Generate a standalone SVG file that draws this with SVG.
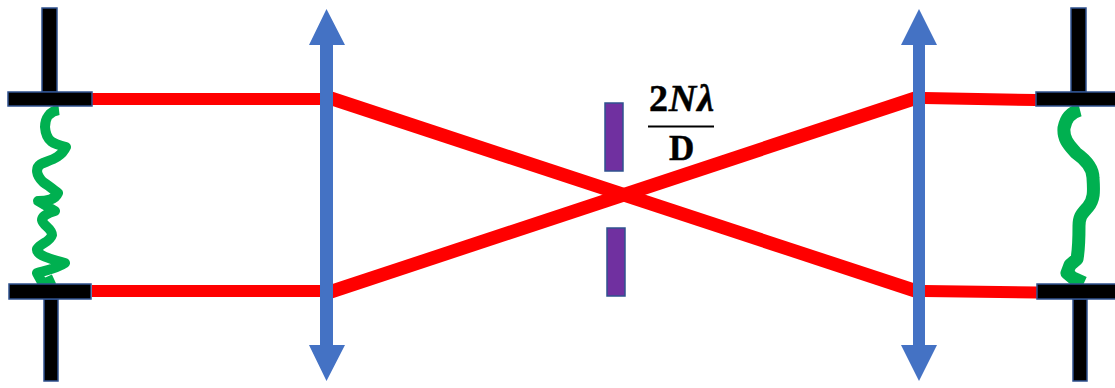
<svg xmlns="http://www.w3.org/2000/svg" width="1115" height="388" viewBox="0 0 1115 388">
<style>
.plate{fill:#000;stroke:#2f528f;stroke-width:1.5}
.ray{fill:none;stroke:#f00;stroke-width:12}
.slant{stroke-width:13.500}
.stop{fill:#7030a0;stroke:#2f528f;stroke-width:1.5}
.lens{fill:#4472c4}
.wave{fill:none;stroke:#00b050;stroke-linejoin:round}
.eq{font-family:"Liberation Serif","DejaVu Serif",serif;font-weight:bold;font-size:38px;fill:#000;stroke:#000;stroke-width:0.500}
</style>
<rect width="1115" height="388" fill="#fff"/>
<g id="connectors">
<path class="ray" d="M92 99H322"/>
<path class="ray" d="M92 291H322"/>
<path class="ray slant" d="M330 98L916 291"/>
<path class="ray slant" d="M330 292L916 98"/>
<path class="ray" d="M924 98L1036 100"/>
<path class="ray" d="M924 291L1037 292.500"/>
</g>
<g id="left-wave"><path class="wave" stroke-width="10" d="M59 110C50 111 45 118 45 127C46 142 54 144 66 147C61 158 50 160 41 164C35 168 36 175 43 182C49 186 54 190 58 193C55 200 47 201 38 201L55 211C48 213 42 216 42 220C43 226 52 228 52 235C50 242 41 243 37 249C36 255 50 259 65 263C58 268 48 270 37 273L43 284L54 279"/></g>
<g id="right-wave"><path class="wave" stroke-width="13" d="M1080 110C1072 112 1066 117 1064 128C1063 140 1070 146 1076 153C1086 160 1093 168 1093 178C1094 192 1094 200 1088 207C1082 214 1079 216 1079 226C1079 240 1079 248 1077 259L1070 265L1067 273L1073 278L1084 283"/></g>
<g id="left-lens"><path class="lens" d="M326.500 9L345 45H333V345H345L326.500 381L309 345H320V45H309Z"/></g>
<g id="right-lens"><path class="lens" d="M919 9L937 45H925V345H937L919 381L901 345H913V45H901Z"/></g>
<g id="left-plate-top"><rect class="plate" x="42" y="8" width="15" height="84"/><rect class="plate" x="8" y="92" width="84" height="14"/></g>
<g id="left-plate-bottom"><rect class="plate" x="44" y="299" width="14" height="82"/><rect class="plate" x="9" y="284" width="82" height="15"/></g>
<g id="right-plate-top"><rect class="plate" x="1071" y="8" width="15" height="84"/><rect class="plate" x="1036" y="92" width="82" height="14"/></g>
<g id="right-plate-bottom"><rect class="plate" x="1073" y="299" width="14" height="82"/><rect class="plate" x="1037" y="284" width="81" height="15"/></g>
<g id="aperture-top"><rect class="stop" x="605" y="103" width="18" height="68"/></g>
<g id="aperture-bottom"><rect class="stop" x="607" y="228" width="18" height="68"/></g>
<g id="equation">
<text class="eq" x="649" y="111" textLength="65" lengthAdjust="spacing">2<tspan font-style="italic">Nλ</tspan></text>
<path d="M648 126.500H714" stroke="#000" stroke-width="2"/>
<text class="eq" x="669" y="160" style="font-size:35px">D</text>
</g>
</svg>
